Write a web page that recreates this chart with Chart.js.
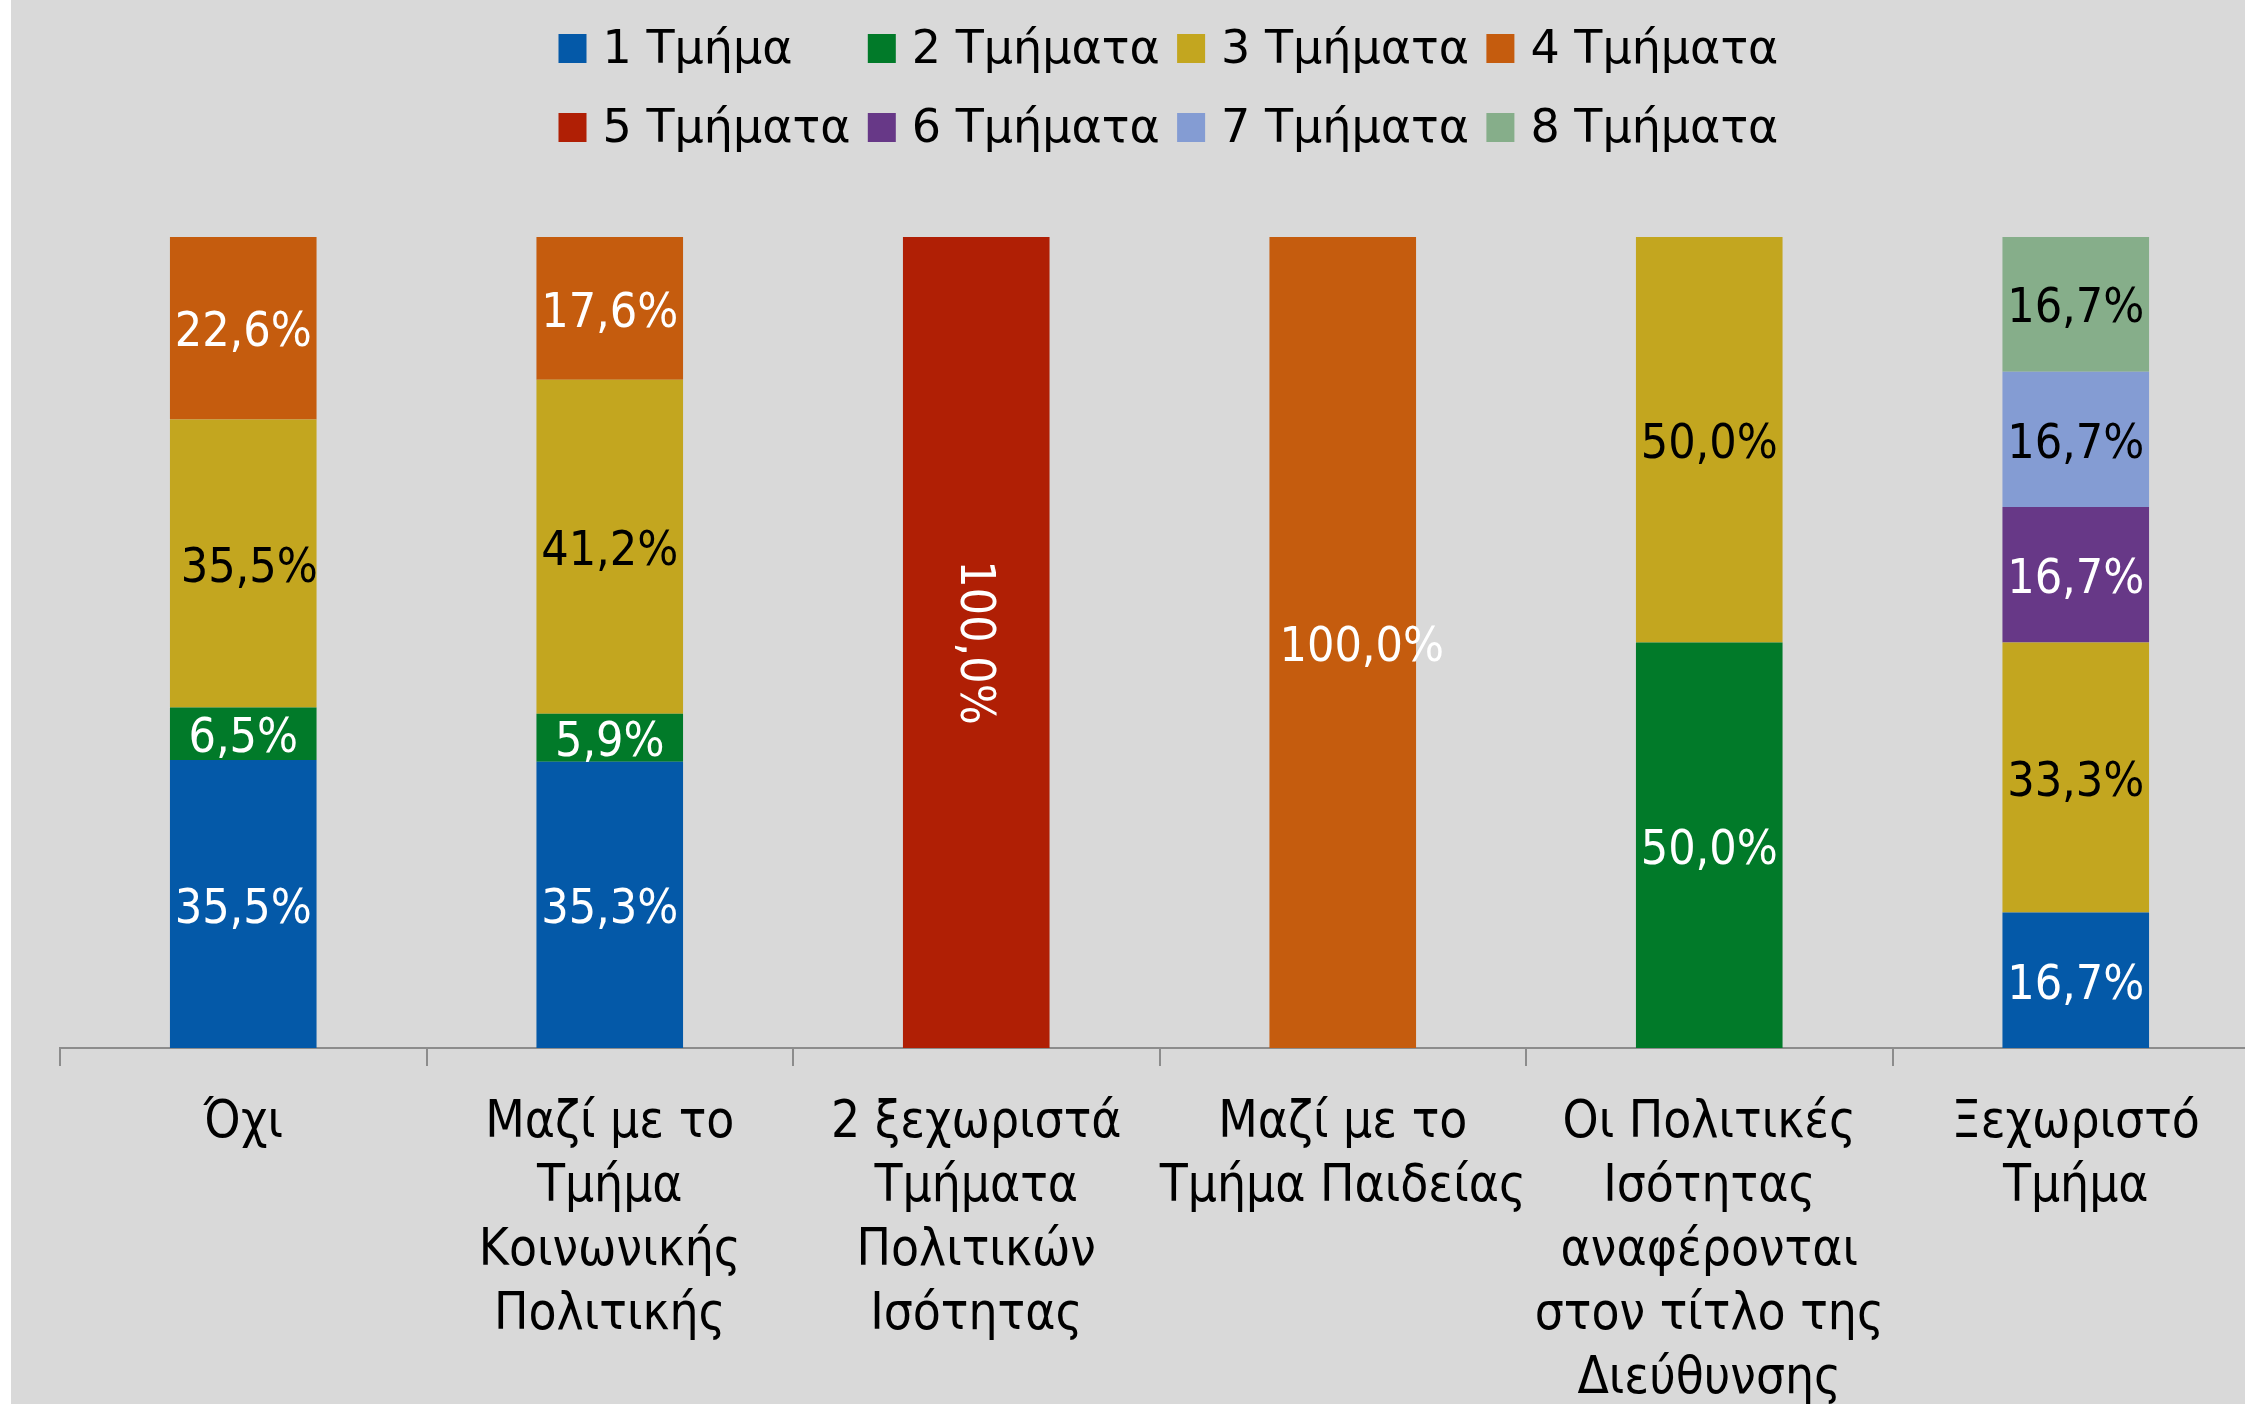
<!DOCTYPE html>
<html>
<head>
<meta charset="utf-8">
<script src="https://cdn.jsdelivr.net/npm/chart.js@4.4.1/dist/chart.umd.min.js"></script>
<style>
    html, body { margin: 0; padding: 0; background: #ffffff; overflow: hidden; }
    #chart-container { position: absolute; left: 11px; top: 0; width: 2251px; height: 1404px; background: #d9d9d9; }
</style>
</head>
<body>
<div id="chart-container">
    <canvas id="departments-chart" width="2251" height="1404"></canvas>
</div>
<script>
const categories = [
    'Όχι',
    ['Μαζί με το', 'Τμήμα', 'Κοινωνικής', 'Πολιτικής'],
    ['2 ξεχωριστά', 'Τμήματα', 'Πολιτικών', 'Ισότητας'],
    ['Μαζί με το', 'Τμήμα Παιδείας'],
    ['Οι Πολιτικές', 'Ισότητας', 'αναφέρονται', 'στον τίτλο της', 'Διεύθυνσης'],
    ['Ξεχωριστό', 'Τμήμα']
];

const seriesNames = ['1 Τμήμα', '2 Τμήματα', '3 Τμήματα', '4 Τμήματα', '5 Τμήματα', '6 Τμήματα', '7 Τμήματα', '8 Τμήματα'];

const oneDept    = [35.5, 35.3, 0, 0, 0, 16.7];
const twoDepts   = [6.5, 5.9, 0, 0, 50.0, 0];
const threeDepts = [35.5, 41.2, 0, 0, 50.0, 33.3];
const fourDepts  = [22.6, 17.6, 0, 100.0, 0, 0];
const fiveDepts  = [0, 0, 100.0, 0, 0, 0];
const sixDepts   = [0, 0, 0, 0, 0, 16.7];
const sevenDepts = [0, 0, 0, 0, 0, 16.7];
const eightDepts = [0, 0, 0, 0, 0, 16.7];

const seriesValues = [oneDept, twoDepts, threeDepts, fourDepts, fiveDepts, sixDepts, sevenDepts, eightDepts];
const seriesColors = ['#0459a8', '#017a29', '#c3a61f', '#c55c0e', '#b01f05', '#673887', '#849cd3', '#86ae8a'];
const labelColors  = ['#ffffff', '#ffffff', '#000000', '#ffffff', '#ffffff', '#ffffff', '#000000', '#000000'];

const FONT = "'DejaVu Sans Condensed', 'DejaVu Sans', sans-serif";

// Legend drawn as a fixed 4-column grid like the original
const gridLegend = {
    id: 'gridLegend',
    afterDraw(chart) {
        let ctx = chart.ctx;
        let center = (chart.chartArea.left + chart.chartArea.right) / 2;
        let left = center - 601;
        ctx.save();
        ctx.font = "46px 'DejaVu Sans', sans-serif";
        ctx.textBaseline = 'middle';
        ctx.textAlign = 'left';
        chart.data.datasets.forEach((ds, i) => {
            let x = left + (i % 4) * 309.3;
            let y = i < 4 ? 48 : 127;
            ctx.fillStyle = ds.backgroundColor;
            ctx.fillRect(x, y - 14, 28, 29);
            ctx.fillStyle = '#000000';
            ctx.fillText(ds.label, x + 44, y + 3);
        });
        ctx.restore();
    }
};

// Percent labels in the middle of each segment
const segmentLabels = {
    id: 'segmentLabels',
    afterDatasetsDraw(chart) {
        let ctx = chart.ctx;
        ctx.save();
        ctx.font = '48px ' + FONT;
        ctx.textAlign = 'center';
        ctx.textBaseline = 'middle';
        chart.data.datasets.forEach((ds, i) => {
            chart.getDatasetMeta(i).data.forEach((bar, j) => {
                let value = ds.data[j];
                if (!value) return;
                let {x, y, base} = bar.getProps(['x', 'y', 'base'], true);
                let yc = (y + base) / 2;
                let text = value.toFixed(1).replace('.', ',') + '%';
                ctx.fillStyle = labelColors[i];
                if (i === 4) {
                    // Rotated label on the single red bar
                    ctx.save();
                    ctx.translate(x - 3, yc);
                    ctx.rotate(Math.PI / 2);
                    ctx.fillText(text, 0, 0);
                    ctx.restore();
                    return;
                }
                let dx = 0;
                if (i === 3 && j === 3) dx = 19;
                if (i === 2 && j === 0) dx = 6;
                ctx.fillText(text, x + dx, yc + 6);
            });
        });
        ctx.restore();
    }
};

let departmentsChart = new Chart(document.getElementById('departments-chart'), {
    type: 'bar',
    data: {
        labels: categories,
        datasets: seriesNames.map((name, i) => ({
            label: name,
            data: seriesValues[i],
            backgroundColor: seriesColors[i],
            borderWidth: 0,
            barPercentage: 0.4,
            categoryPercentage: 1.0
        }))
    },
    options: {
        responsive: false,
        animation: false,
        layout: {
            padding: { top: 237, left: 49, right: 3, bottom: 0 }
        },
        scales: {
            x: {
                stacked: true,
                grid: {
                    offset: true,
                    drawOnChartArea: false,
                    drawTicks: true,
                    tickLength: 18,
                    color: '#8c8c8c',
                    lineWidth: 2
                },
                border: { display: true, color: '#8c8c8c', width: 2 },
                ticks: {
                    color: '#000000',
                    font: { family: FONT, size: 51, lineHeight: 1.255 },
                    padding: 26,
                    maxRotation: 0,
                    minRotation: 0,
                    autoSkip: false
                },
                afterFit: function(scale) {
                    scale.height = 356;
                }
            },
            y: {
                stacked: true,
                display: false,
                min: 0,
                max: 100
            }
        },
        plugins: {
            legend: { display: false },
            tooltip: { enabled: false }
        }
    },
    plugins: [gridLegend, segmentLabels]
});
</script>
</body>
</html>
